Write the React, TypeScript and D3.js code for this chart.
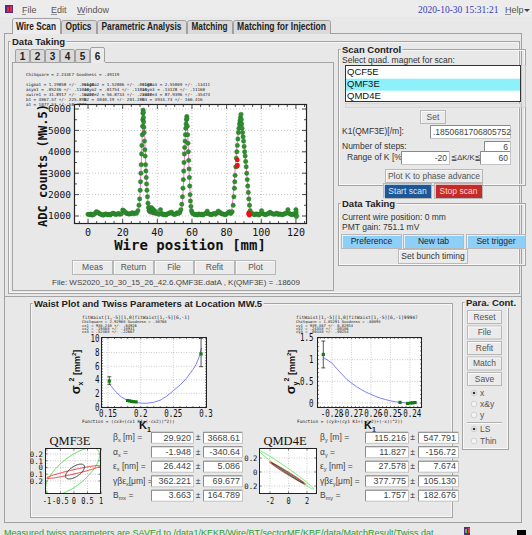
import React from 'react';
import * as d3 from 'd3';

const BG = '#e8e8e8';
const SANS = '"Liberation Sans", "DejaVu Sans", Arial, sans-serif';
const MONO = '"DejaVu Sans Mono", monospace';
const SERIF = '"Liberation Serif", "DejaVu Serif", serif';

// ---------------- Wire scan data ----------------
const scanPoints: [number, number][] = [
  [0,1080],[0.8,1060],[1.6,1090],[2.4,1040],[3.2,1070],[4,1120],[4.8,1200],[5.6,1180],[6.4,1120],[7.2,1090],
  [8,1060],[8.8,1040],[9.6,1080],[10.4,1100],[11.2,1060],[12,1080],[12.8,1050],[13.6,1100],[14.4,1130],[15.2,1110],
  [16,1070],[16.8,1090],[17.6,1120],[18.4,1080],[19.2,1100],[20,1280],[20.8,1240],[21.6,1180],[22.4,1120],[23.2,1100],
  [24,1090],[24.8,1120],[25.6,1150],[26.4,1100],[27.2,1140],[28,1130],[28.8,1250],[29.4,1500],[29.8,1800],[30.1,2200],
  [30.3,2600],[30.5,3000],[30.7,3400],[30.9,3900],[31.1,4300],[31.3,4800],[31.5,5200],[31.6,5500],[31.7,5800],[31.8,5950],
  [31.9,5850],[32.0,5600],[32.1,5400],[32.2,5150],[32.4,4900],[32.6,4500],[32.8,4100],[33.0,3800],[33.2,3400],[33.4,3100],
  [33.6,2800],[33.8,2500],[34.0,2200],[34.3,1900],[34.6,1600],[34.9,1400],[35.2,1250],[35.5,1350],[35.8,1200],[36.1,1300],
  [36.4,1400],[36.7,1250],[37.0,1350],[37.3,1200],[37.6,1300],[37.9,1150],[38.2,1250],[38.5,1200],[38.8,1130],[39.4,1180],
  [40.2,1100],[41,1080],[41.8,1300],[42.6,1120],[43.4,1060],[44.2,1080],[45,1050],[45.8,1100],[46.6,1120],[47.4,1150],
  [48.2,1180],[49,1100],[49.8,1070],[50.6,1090],[51.4,1150],[52.2,1120],[53,1180],[53.6,1300],[54.1,1550],[54.5,1900],
  [54.8,2300],[55.0,2700],[55.2,3100],[55.4,3500],[55.6,3900],[55.8,4200],[56.0,4500],[56.2,4800],[56.4,5100],[56.6,5300],
  [56.8,5500],[57.0,5650],[57.1,5550],[57.3,5200],[57.5,4800],[57.7,4400],[57.9,4000],[58.1,3600],[58.3,3200],[58.5,2800],
  [58.7,2400],[58.9,2000],[59.1,1700],[59.4,1450],[59.7,1250],[60.1,1150],[60.8,1100],[61.6,1060],[62.4,1080],[63.2,1050],
  [64,1100],[64.8,1060],[65.6,1080],[66.4,1050],[67.2,1100],[68,1120],[68.8,1230],[69.6,1100],[70.4,1080],[71.2,1060],
  [72,1090],[72.8,1120],[73.6,1080],[74.4,1150],[75.2,1230],[76,1180],[76.8,1120],[77.6,1100],[78.4,1080],[79.2,1060],
  [80,1100],[80.8,1150],[81.6,1200],[82.4,1120],[83.2,1200],[83.8,1500],[84.2,1900],[84.5,2300],[84.7,2600],[84.9,2900],
  [85.3,3300],[85.6,3700],[85.9,4000],[86.2,4300],[86.5,4600],[86.8,4900],[87.1,5100],[87.4,5300],[87.7,5450],[88.0,5600],
  [88.3,5750],[88.5,5500],[88.7,5300],[88.9,5100],[89.2,4900],[89.5,4700],[89.8,4500],[90.1,4250],[90.4,4000],[90.7,3800],
  [91.0,3550],[91.3,3300],[91.6,3000],[91.9,2700],[92.2,2400],[92.5,2100],[92.8,1800],[93.2,1500],[93.6,1250],[94,1100],
  [94.6,1120],[95.4,1080],[96.2,1060],[97,1100],[97.8,1080],[98.6,1050],[99.4,1100],[100.2,1250],[101,1100],[101.8,1080],
  [102.6,1060],[103.4,1100],[104.2,1120],[105,1180],[105.8,1130],[106.6,1100],[107.4,1080],[108.2,1110],[109,1130],[109.8,1070],
  [110.6,1100],[111.4,1080],[112.2,1060],[113,1090],[113.8,1110],[114.6,1150],[115.4,1300],[116.2,1120],[117,1080],[117.8,1060],
  [118.6,1100],[119.4,1080],[120,1300],[120.1,1180],[120.2,1050],[120.3,980],
];
const scanRedPoints: [number, number][] = [[86.2,3620],[86.3,3380],[86.1,3320],[92.8,1150],[92.9,1080],[93.1,1040],[92.7,1110]];
const scanFit: [number, number][] = [
  [0,1070],[28.6,1075],[29.3,1300],[30,2000],[30.6,3200],[31.2,4600],[31.7,5600],[32,5900],[32.3,5600],[32.8,4500],
  [33.4,3300],[34,2300],[34.6,1600],[35.2,1200],[35.8,1075],[53.8,1075],[54.4,1400],[55,2300],[55.6,3500],[56.2,4700],
  [56.7,5450],[57,5600],[57.3,5300],[57.8,4300],[58.4,3000],[59,1900],[59.6,1300],[60.2,1080],[82.6,1075],[83.3,1500],
  [84.2,2400],[85.2,3500],[86.2,4500],[87.2,5300],[88,5650],[88.6,5500],[89.4,4900],[90.4,4100],[91.4,3200],[92.4,2300],
  [93.2,1600],[93.8,1150],[94.3,1075],[121,1075],
];
const scanXTicks = [0, 20, 40, 60, 80, 100, 120];
const scanYTicks = [1000, 2000, 3000, 4000, 5000, 6000];

const fitHeader = 'ChiSquare = 2.233E7  Goodness  =  .49119';
const fitCol1 = ['sigma1 = 1.19858 +/-  .06648', 'asym1  = .05246 +/-  .11040', 'xwire1 = 31.8917 +/-  .16200', 'b1     = 4067.57 +/- 225.898', 'a1     = 1077.53 +/- 58.3872'];
const fitCol2 = ['sigma2 = 1.52006 +/-  .09108', 'asym2  = .01754 +/-  .11810', 'xwire2 = 56.8733 +/-  .21900', 'b2     = 4040.19 +/- 201.289', ''];
const fitCol3 = ['sigma3 = 2.55069 +/-  .13411', 'asym3  = .13128 +/-  .11160', 'xwire3 = 87.9396 +/-  .35474', 'b3     = 3934.73 +/- 166.416', ''];

// ---------------- Waist data ----------------
const waistXPoints: [number, number][] = [[0.152,3.82],[0.180,0.95],[0.183,0.9],[0.186,0.82],[0.189,0.78],[0.193,0.75],[0.2924,7.8]];
const waistXErr: [number, number, number][] = [[0.152,3.34,4.45],[0.2924,5.93,10.1]];
const waistXFit: [number, number][] = [
  [0.152,3.38],[0.16,2.45],[0.17,1.5],[0.18,0.95],[0.19,0.7],[0.2,0.58],[0.205,0.55],[0.21,0.56],[0.22,0.7],[0.23,1.0],
  [0.24,1.6],[0.25,2.4],[0.26,3.2],[0.27,4.2],[0.28,5.5],[0.285,6.3],[0.29,7.5],[0.293,8.7],
];
const waistXTicks = [0.15, 0.2, 0.25, 0.3];
const waistXTickLabels = ['0.15', '0.2', '0.25', '0.3'];
const waistXYTicks = [0, 2, 4, 6, 8, 10];

const waistYPoints: [number, number][] = [[-0.28446,1.12],[-0.2451,0.015],[-0.2412,-0.01],[-0.2396,0.0],[-0.2386,0.005],[-0.2374,0.01]];
const waistYErr: [number, number, number][] = [[-0.28446,0.81,1.43]];
const waistYFit: [number, number][] = [
  [-0.2842,1.045],[-0.28,0.92],[-0.2775,0.79],[-0.275,0.67],[-0.2725,0.55],[-0.27,0.46],[-0.2675,0.38],[-0.265,0.31],
  [-0.2625,0.25],[-0.26,0.2],[-0.2575,0.15],[-0.255,0.11],[-0.2525,0.08],[-0.25,0.05],[-0.2475,0.03],[-0.245,0.015],
  [-0.2425,0.006],[-0.24,0.002],[-0.2365,0.004],
];
const waistYTicks = [-0.28, -0.27, -0.26, -0.25, -0.24];
const waistYTickLabels = ['-0.28', '-0.27', '-0.26', '-0.25', '-0.24'];
const waistYYTicks = [0, 0.5, 1, 1.5];
const waistYYTickLabels = ['0', '0.5', '1', '1.5'];

const waistXText = ['fitWaist[1,-5][1,0]fitWaist[1,-5][6,-1]', 'ChiSquare = 2.92968   Goodness  =  .38768', 'cx1  =  938.248 +/-  .64926', 'cx2  =  .19468  +/-  .18931', 'cx3  =  .52468  +/-  .22667'];
const waistYText = ['fitWaist[1,-5][1,0]fitWaist[1,-5][6,-1]99947', 'ChiSquare = 1.85291   Goodness = .60893', 'cy1  =  939.367 +/-  6.02953', 'cy2  =  .24358  +/-  .00186', 'cy3  =  .00438  +/-  .00254'];

// ---------------- Phase-space ellipses ----------------
const qmf3eEllipses = [
  { color: '#44dd44', cx: -0.05, cy: -0.06, a: 1.0, b: 0.35, d: 0.8 },
  { color: '#ee2222', cx: -0.03, cy: -0.067, a: 0.98, b: 0.095, d: 0.35 },
  { color: '#222222', cx: 0.04, cy: -0.06, a: 0.35, b: 0.11, d: 0.9 },
];
const qmd4eEllipses = [
  { color: '#55ee55', cx: -0.22, cy: 0.03, a: 2.95, b: 0.275, d: Math.PI - 0.14 },
  { color: '#ee2222', cx: -0.1, cy: -0.015, a: 1.95, b: 0.16, d: Math.PI - 0.14 },
  { color: '#222222', cx: -0.1, cy: -0.015, a: 1.75, b: 0.145, d: Math.PI - 0.07 },
];
const qmf3eXTicks = [-1, -0.5, 0, 0.5, 1];
const qmf3eXLabels = ['-1', '-0.5', '0', '0.5', '1'];
const qmf3eYTicks = [0.2, 0.1, 0, -0.1, -0.2];
const qmf3eYLabels = ['0.2', '0.1', '0', '-0.1', '-0.2'];
const qmd4eXTicks = [-2, 0, 2];
const qmd4eXLabels = ['-2', '0', '2'];
const qmd4eYTicks = [0.2, 0, -0.2];
const qmd4eYLabels = ['0.2', '0', '-0.2'];

// ---------------- Twiss fields ----------------
const twissXLabels: [string, string, string][] = [['β', 'x', ' [m] ='], ['α', 'x', ' ='], ['ε', 'x', ' [nm] ='], ['γβε', 'x', '[μm] ='], ['B', 'mx', ' =']];
const twissYLabels: [string, string, string][] = [['β', 'y', ' [m] ='], ['α', 'y', ' ='], ['ε', 'y', ' [nm] ='], ['γβε', 'y', '[μm] ='], ['B', 'my', ' =']];
const twissXVal = ['29.920', '-1.948', '26.442', '362.221', '3.663'];
const twissXErr = ['3668.61', '-340.64', '5.086', '69.677', '164.789'];
const twissYVal = ['115.216', '11.827', '27.578', '377.775', '1.757'];
const twissYErr = ['547.791', '-156.72', '7.674', '105.130', '182.676'];

const mainTabs = ['Wire Scan', 'Optics', 'Parametric Analysis', 'Matching', 'Matching for Injection'];
const subTabs = ['1', '2', '3', '4', '5', '6'];
const quadList = ['QCF5E', 'QMF3E', 'QMD4E'];
const paraButtons = ['Reset', 'File', 'Refit', 'Match', 'Save'];

// ---------------- helpers ----------------
function Txt({ x, y, children, size = 9, anchor = 'start', weight = 'normal', fill = '#333', family = SANS, ...rest }: any) {
  return <text x={x} y={y} fontSize={size} textAnchor={anchor} fontWeight={weight} fill={fill} fontFamily={family} {...rest}>{children}</text>;
}

function Group({ x, y, w, h, label }: any) {
  return (
    <g>
      <rect x={x + 0.5} y={y + 0.5} width={w} height={h} fill="none" stroke="#a4a4a4" />
      <rect x={x + 1.5} y={y + 1.5} width={w - 2} height={h - 2} fill="none" stroke="#fafafa" strokeWidth={0.8} />
      {label && (
        <text x={x + 4} y={y + 4} fontSize={9.5} fontWeight="bold" fontFamily={SANS} fill="#222" stroke={BG} strokeWidth={4} paintOrder="stroke">{label}</text>
      )}
    </g>
  );
}

function Button({ x, y, w, h, label, fill = '#ebebeb', color = '#555', size = 9, weight = 'normal' }: any) {
  return (
    <g>
      <rect x={x + 0.5} y={y + 0.5} width={w} height={h} fill={fill} stroke="#b8b8b8" />
      <line x1={x + 1} y1={y + 1.5} x2={x + w} y2={y + 1.5} stroke="#ffffff" strokeOpacity={0.7} />
      <line x1={x + 1.5} y1={y + 1} x2={x + 1.5} y2={y + h} stroke="#ffffff" strokeOpacity={0.7} />
      <Txt x={x + w / 2 + 0.5} y={y + h / 2 + size * 0.36} size={size} anchor="middle" fill={color} weight={weight}>{label}</Txt>
    </g>
  );
}

function Field({ x, y, w, h, text, anchor = 'end', size = 9, color = '#444' }: any) {
  return (
    <g>
      <rect x={x + 0.5} y={y + 0.5} width={w} height={h} fill="#fff" stroke="#c4c4c4" />
      <line x1={x + 0.5} y1={y + 0.5} x2={x + w} y2={y + 0.5} stroke="#8a8a8a" />
      <line x1={x + 0.5} y1={y + 0.5} x2={x + 0.5} y2={y + h} stroke="#8a8a8a" />
      <Txt x={anchor === 'end' ? x + w - 2 : x + 3} y={y + h / 2 + size * 0.36} size={size} anchor={anchor} fill={color}>{text}</Txt>
    </g>
  );
}

function MenuBar() {
  return (
    <g>
      <rect x={0} y={0} width={532} height={17} fill="#ececec" />
      <rect x={5} y={5} width={8} height={8} fill="#5a2a8a" />
      <rect x={7} y={7} width={2} height={5} fill="#e03030" />
      <rect x={10} y={6} width={2} height={6} fill="#e03030" />
      {[['File', 22], ['Edit', 51], ['Window', 77]].map(([t, x]) => (
        <Txt key={t as string} x={x} y={13} size={9} fill="#555">{t}</Txt>
      ))}
      <line x1={22} y1={14.5} x2={26} y2={14.5} stroke="#555" strokeWidth={0.6} />
      <line x1={51} y1={14.5} x2={57} y2={14.5} stroke="#555" strokeWidth={0.6} />
      <line x1={77} y1={14.5} x2={85} y2={14.5} stroke="#555" strokeWidth={0.6} />
      <Txt x={418} y={13} size={9.5} fill="#3a3ab8" family={SERIF}>2020-10-30 15:31:21</Txt>
      <Txt x={505} y={13} size={9} fill="#555">Help</Txt>
      <line x1={505} y1={14.5} x2={511} y2={14.5} stroke="#555" strokeWidth={0.6} />
      <path d="M524,9 L530,9 L527,12 Z" fill="#444" />
    </g>
  );
}

function MainTabs() {
  const xs = [12, 61, 97, 187, 233, 331];
  const lens = [40, 26, 80, 36, 89];
  return (
    <g>
      <line x1={4.5} y1={33.5} x2={521.5} y2={33.5} stroke="#a0a0a0" />
      {mainTabs.map((t, i) => {
        const sel = i === 0;
        const x0 = xs[i], x1 = xs[i + 1] - 1;
        const top = sel ? 18.5 : 20.5;
        return (
          <g key={t}>
            <path d={`M${x0 + 0.5},34 L${x0 + 0.5},${top + 2} Q${x0 + 0.5},${top} ${x0 + 2.5},${top} L${x1 - 1.5},${top} Q${x1 + 0.5},${top} ${x1 + 0.5},${top + 2} L${x1 + 0.5},34`}
              fill={sel ? '#ececec' : '#dadada'} stroke="#a0a0a0" />
            {sel && <line x1={x0 + 1} y1={33.5} x2={x1} y2={33.5} stroke="#ececec" />}
            <text x={(x0 + x1) / 2} y={30} fontSize={10} fontWeight="bold" textAnchor="middle" fill="#222" fontFamily={SANS}
              textLength={lens[i]} lengthAdjust="spacingAndGlyphs">{t}</text>
          </g>
        );
      })}
    </g>
  );
}

function SubTabs() {
  return (
    <g>
      <rect x={12.5} y={62.5} width={321} height={228} fill="none" stroke="#a4a4a4" />
      {subTabs.map((t, i) => {
        const x0 = 15 + i * 15, x1 = x0 + 15;
        const sel = i === 5;
        return (
          <g key={t}>
            <rect x={x0 + 0.5} y={sel ? 47.5 : 49.5} width={14} height={sel ? 15 : 13} fill={sel ? '#ececec' : '#dadada'} stroke="#a0a0a0" rx={1.5} />
            {sel && <line x1={x0 + 1} y1={62.5} x2={x1} y2={62.5} stroke="#ececec" />}
            <Txt x={x0 + 7.5} y={59.5} size={10} weight="bold" anchor="middle" fill="#222">{t}</Txt>
          </g>
        );
      })}
    </g>
  );
}

function ScanChart() {
  const L = 74, R = 307, T = 104, B = 224;
  const x = d3.scaleLinear().domain([-8.1, 126.4]).range([L, R]);
  const y = d3.scaleLinear().domain([626, 6234]).range([B, T]);
  const line = d3.line<[number, number]>().x(d => x(d[0])).y(d => y(d[1]));
  const xMinor = d3.range(-5, 126, 5);
  const yMinor = d3.range(1000, 6234, 500);
  return (
    <g>
      <rect x={L} y={T} width={R - L} height={B - T} fill="#fff" />
      {scanXTicks.map(t => <line key={'gx' + t} x1={x(t)} x2={x(t)} y1={T} y2={B} stroke="#b0b0b0" strokeWidth={0.7} strokeDasharray="1,2" />)}
      {scanYTicks.map(t => <line key={'gy' + t} x1={L} x2={R} y1={y(t)} y2={y(t)} stroke="#b0b0b0" strokeWidth={0.7} strokeDasharray="1,2" />)}
      {xMinor.map(t => {
        const major = t % 20 === 0;
        const len = major ? 5 : 3;
        return <g key={'xt' + t}>
          <line x1={x(t)} x2={x(t)} y1={B} y2={B - len} stroke="#222" strokeWidth={0.8} />
          <line x1={x(t)} x2={x(t)} y1={T} y2={T + len} stroke="#222" strokeWidth={0.8} />
        </g>;
      })}
      {yMinor.map(t => {
        const major = t % 1000 === 0;
        const len = major ? 5 : 3;
        return <g key={'yt' + t}>
          <line x1={L} x2={L + len} y1={y(t)} y2={y(t)} stroke="#222" strokeWidth={0.8} />
          <line x1={R} x2={R - len} y1={y(t)} y2={y(t)} stroke="#222" strokeWidth={0.8} />
        </g>;
      })}
      <path d={line(scanFit) || ''} fill="none" stroke="#ff66cc" strokeWidth={0.9} />
      {scanPoints.map((p, i) => <circle key={'p' + i} cx={x(p[0])} cy={y(p[1])} r={2.2} fill="#2f8f2f" stroke="#1e6e1e" strokeWidth={0.4} />)}
      {scanRedPoints.map((p, i) => <circle key={'r' + i} cx={x(p[0])} cy={y(p[1])} r={2.3} fill="#ee1111" />)}
      <rect x={L + 0.5} y={T + 0.5} width={R - L - 1} height={B - T - 1} fill="none" stroke="#222" strokeWidth={1.2} />
      {scanXTicks.map(t => <Txt key={'xl' + t} x={x(t)} y={236} size={10} anchor="middle" family={MONO} fill="#111">{t}</Txt>)}
      {scanYTicks.map(t => <Txt key={'yl' + t} x={71} y={y(t) + 3.4} size={9.5} anchor="end" family={MONO} fill="#111">{t}</Txt>)}
      <Txt x={190} y={250} size={14} anchor="middle" family={MONO} weight="bold" fill="#111">Wire position [mm]</Txt>
      <Txt x={0} y={0} size={12} anchor="middle" family={MONO} weight="bold" fill="#111" transform="translate(46.5,165.5) rotate(-90)">ADC counts (MW.5)</Txt>
    </g>
  );
}

function FitText() {
  const rows = [85.5, 90.6, 95.7, 100.8, 105.9];
  return (
    <g fontFamily={MONO} fontSize={4.2} fill="#222">
      <text x={26} y={75.5}>{fitHeader}</text>
      {rows.map((yy, i) => (
        <g key={i}>
          <text x={26} y={yy}>{fitCol1[i]}</text>
          {fitCol2[i] && <text x={84} y={yy}>{fitCol2[i]}</text>}
          {fitCol3[i] && <text x={142} y={yy}>{fitCol3[i]}</text>}
        </g>
      ))}
    </g>
  );
}

function WaistChart({ L, R, T, B, xd, yd, xticks, xlabels, yticks, ylabels, curve, pts, errs, yLabelRight, sub, textLines, textX, funcText, funcX, k1x, ylx }: any) {
  const x = d3.scaleLinear().domain(xd).range([L, R]);
  const y = d3.scaleLinear().domain(yd).range([B, T]);
  const line = d3.line<[number, number]>().x(d => x(d[0])).y(d => y(d[1]));
  const step = xticks[1] - xticks[0];
  const ystep = yticks[1] - yticks[0];
  const xMinor = d3.range(xticks[0] - step, xticks[xticks.length - 1] + step, step / 5).filter(v => v >= xd[0] && v <= xd[1]);
  const yMinor = d3.range(yticks[0] - ystep, yticks[yticks.length - 1] + ystep, ystep / 5).filter(v => v >= yd[0] && v <= yd[1]);
  return (
    <g>
      <g fontFamily={MONO} fill="#222">
        {textLines.map((t: string, i: number) => (
          <text key={i} x={textX} y={319 + i * 3.4 + (i === 0 ? 0 : 0.8)} fontSize={i === 0 ? 4.6 : 3.8}>{t}</text>
        ))}
      </g>
      <rect x={L} y={T} width={R - L} height={B - T} fill="#fff" />
      {xticks.map((t: number) => <line key={'gx' + t} x1={x(t)} x2={x(t)} y1={T} y2={B} stroke="#a8a8a8" strokeWidth={0.6} strokeDasharray="1,1.5" />)}
      {yticks.map((t: number) => <line key={'gy' + t} x1={L} x2={R} y1={y(t)} y2={y(t)} stroke="#a8a8a8" strokeWidth={0.6} strokeDasharray="1,1.5" />)}
      {xMinor.map((t: number, i: number) => <g key={'xm' + i}>
        <line x1={x(t)} x2={x(t)} y1={B} y2={B - 2} stroke="#222" strokeWidth={0.6} />
        <line x1={x(t)} x2={x(t)} y1={T} y2={T + 2} stroke="#222" strokeWidth={0.6} />
      </g>)}
      {yMinor.map((t: number, i: number) => <g key={'ym' + i}>
        <line x1={L} x2={L + 2} y1={y(t)} y2={y(t)} stroke="#222" strokeWidth={0.6} />
        <line x1={R} x2={R - 2} y1={y(t)} y2={y(t)} stroke="#222" strokeWidth={0.6} />
      </g>)}
      <path d={line(curve) || ''} fill="none" stroke="#6f6fff" strokeWidth={0.9} />
      {errs.map((e: number[], i: number) => <g key={'e' + i} stroke="#111" strokeWidth={0.7}>
        <line x1={x(e[0])} x2={x(e[0])} y1={y(e[1])} y2={y(e[2])} />
        <line x1={x(e[0]) - 2} x2={x(e[0]) + 2} y1={y(e[1])} y2={y(e[1])} />
        <line x1={x(e[0]) - 2} x2={x(e[0]) + 2} y1={y(e[2])} y2={y(e[2])} />
      </g>)}
      {pts.map((p: number[], i: number) => <rect key={'p' + i} x={x(p[0]) - 1.6} y={y(p[1]) - 1.6} width={3.2} height={3.2} fill="#137a13" />)}
      <rect x={L + 0.5} y={T + 0.5} width={R - L - 1} height={B - T - 1} fill="none" stroke="#222" strokeWidth={1} />
      {xticks.map((t: number, i: number) => <text key={'xl' + i} x={x(t)} y={416.5} fontSize={10} fontFamily={MONO} textAnchor="middle" fill="#111" textLength={xlabels[i].length * 4.5} lengthAdjust="spacingAndGlyphs">{xlabels[i]}</text>)}
      {yticks.map((t: number, i: number) => <text key={'yl' + i} x={yLabelRight} y={y(t) + 3.5} fontSize={10} fontFamily={MONO} textAnchor="end" fill="#111" textLength={ylabels[i].length * 4.5} lengthAdjust="spacingAndGlyphs">{ylabels[i]}</text>)}
      <text x={funcX} y={422.5} fontSize={4.4} fontFamily={MONO} fill="#222">{funcText}</text>
      <text x={k1x} y={429} fontSize={11} fontWeight="bold" fontFamily={SANS} fill="#111">K<tspan fontSize={7} dy={2.5}>1</tspan></text>
      <g transform={`translate(${ylx},372) rotate(-90)`}>
        <text x={0} y={0} textAnchor="middle" fontFamily={SANS} fontWeight="bold" fill="#111" fontSize={13}>
          σ<tspan fontSize={7} dy={3}>{sub}</tspan><tspan fontSize={7} dy={-9}>2</tspan><tspan fontSize={9} dy={6}>{'  [mm'}</tspan><tspan fontSize={6} dy={-4}>2</tspan><tspan fontSize={9} dy={4}>]</tspan>
        </text>
      </g>
    </g>
  );
}

function EllipseChart({ id, L, R, T, B, xd, yd, ellipses, xticks, xlabels, yticks, ylabels, yLabelRight, clipX, title, titleX }: any) {
  const x = d3.scaleLinear().domain(xd).range([L, R]);
  const y = d3.scaleLinear().domain(yd).range([B, T]);
  const line = d3.line<[number, number]>().x(d => x(d[0])).y(d => y(d[1]));
  const ts = d3.range(0, 2 * Math.PI + 0.001, Math.PI / 90);
  return (
    <g>
      <defs>
        <clipPath id={id + 'plot'}><rect x={L} y={T} width={R - L} height={B - T} /></clipPath>
        <clipPath id={id + 'lab'}><rect x={clipX} y={T - 10} width={200} height={70} /></clipPath>
      </defs>
      <Txt x={titleX} y={445} size={12.5} anchor="middle" family={SERIF} fill="#111">{title}</Txt>
      <rect x={L} y={T} width={R - L} height={B - T} fill="#fff" />
      {xticks.map((t: number) => <line key={'gx' + t} x1={x(t)} x2={x(t)} y1={T} y2={B} stroke="#a8a8a8" strokeWidth={0.6} strokeDasharray="1,1.5" />)}
      {yticks.map((t: number) => <line key={'gy' + t} x1={L} x2={R} y1={y(t)} y2={y(t)} stroke="#a8a8a8" strokeWidth={0.6} strokeDasharray="1,1.5" />)}
      {xticks.map((t: number) => <g key={'xt' + t} stroke="#222" strokeWidth={0.6}>
        <line x1={x(t)} x2={x(t)} y1={B} y2={B - 2.5} /><line x1={x(t)} x2={x(t)} y1={T} y2={T + 2.5} />
      </g>)}
      {yticks.map((t: number) => <g key={'yt' + t} stroke="#222" strokeWidth={0.6}>
        <line x1={L} x2={L + 2.5} y1={y(t)} y2={y(t)} /><line x1={R} x2={R - 2.5} y1={y(t)} y2={y(t)} />
      </g>)}
      <g clipPath={`url(#${id}plot)`}>
        {ellipses.map((e: any, i: number) => (
          <path key={i} d={(line(ts.map(t => [e.cx + e.a * Math.cos(t), e.cy + e.b * Math.cos(t + e.d)] as [number, number])) || '') + 'Z'} fill="none" stroke={e.color} strokeWidth={0.9} />
        ))}
      </g>
      <rect x={L + 0.5} y={T + 0.5} width={R - L - 1} height={B - T - 1} fill="none" stroke="#222" strokeWidth={1} />
      {xticks.map((t: number, i: number) => <text key={'xl' + i} x={x(t)} y={503.5} fontSize={8} fontFamily={MONO} textAnchor="middle" fill="#111" textLength={xlabels[i].length * 4.2} lengthAdjust="spacingAndGlyphs">{xlabels[i]}</text>)}
      <g clipPath={`url(#${id}lab)`}>
        {yticks.map((t: number, i: number) => <text key={'yl' + i} x={yLabelRight} y={y(t) + 2.8} fontSize={7.5} fontFamily={MONO} textAnchor="end" fill="#111" textLength={ylabels[i].length * 4.4} lengthAdjust="spacingAndGlyphs">{ylabels[i]}</text>)}
      </g>
    </g>
  );
}

function TwissFields({ labels, vals, errs, lx, b1x, b1w, pmx, b2x, b2w }: any) {
  const centers = [437.3, 451.7, 466.2, 480.8, 495.2];
  return (
    <g>
      {labels.map((lab: string[], i: number) => (
        <g key={i}>
          <text x={lx} y={centers[i] + 3} fontSize={8.5} fontFamily={SANS} fill="#444">
            {lab[0]}<tspan fontSize={5.5} dy={1.8}>{lab[1]}</tspan><tspan dy={-1.8}>{lab[2]}</tspan>
          </text>
          <Field x={b1x} y={centers[i] - 5.5} w={b1w} h={11} text={vals[i]} />
          <Txt x={pmx} y={centers[i] + 3} size={8.5} anchor="middle" fill="#444">±</Txt>
          <Field x={b2x} y={centers[i] - 5.5} w={b2w} h={11} text={errs[i]} />
        </g>
      ))}
    </g>
  );
}

function ScanControl() {
  return (
    <g>
      <Group x={338} y={49} w={187} h={136} label="Scan Control" />
      <Txt x={342} y={63} size={8.5} fill="#333">Select quad. magnet for scan:</Txt>
      <rect x={345.5} y={65.5} width={175} height={36} fill="#fff" stroke="#333" />
      <rect x={346} y={78.7} width={174} height={12} fill="#8ef0fa" />
      {quadList.map((q, i) => <Txt key={q} x={347} y={75 + i * 12} size={9.5} fill="#111">{q}</Txt>)}
      <rect x={345.5} y={103.5} width={175} height={4} fill="#e4e4e4" stroke="#c8c8c8" strokeWidth={0.5} />
      <rect x={521.5} y={65.5} width={4} height={42} fill="#e4e4e4" stroke="#c8c8c8" strokeWidth={0.5} />
      <Button x={420} y={110} w={25} h={13} label="Set" size={8.5} />
      <Txt x={342} y={134} size={8.5} fill="#333">K1(QMF3E)[/m]:</Txt>
      <Field x={430} y={125} w={80} h={13} text=".1850681706805752" anchor="start" size={8.5} />
      <Txt x={342} y={149} size={8.5} fill="#333">Number of steps:</Txt>
      <Field x={484} y={141} w={26} h={12} text="6" size={8.5} />
      <Txt x={347} y={160} size={8.5} fill="#333">Range of K [%]:</Txt>
      <Field x={401} y={151} w={48} h={13} text="-20" size={8.5} />
      <Txt x={451} y={160} size={7.5} fill="#333">≦ΔK/K≦</Txt>
      <Field x={480} y={151} w={30} h={13} text="60" size={8.5} />
      <Button x={385} y={169} w={97} h={13} label="Plot K to phase advance" size={8.5} />
      <Button x={383} y={183} w={48} h={15} label="Start scan" fill="#1e5796" color="#dde6ff" size={8.5} />
      <Button x={434} y={183} w={48} h={15} label="Stop scan" fill="#c42a2a" color="#ffd8d8" size={8.5} />
      <Group x={338} y={203} w={187} h={62} label="Data Taking" />
      <Txt x={342} y={220} size={8.5} fill="#333">Current wire position: 0 mm</Txt>
      <Txt x={342} y={230} size={8.5} fill="#333">PMT gain: 751.1 mV</Txt>
      <Button x={341} y={234} w={60} h={14} label="Preference" fill="#8ecff8" color="#223" size={8.5} />
      <Button x={403} y={234} w={60} h={14} label="New tab" fill="#8ecff8" color="#223" size={8.5} />
      <Button x={466} y={234} w={59} h={14} label="Set trigger" fill="#8ecff8" color="#223" size={8.5} />
      <Button x={398} y={249} w={69} h={14} label="Set bunch timing" size={8.5} color="#333" />
    </g>
  );
}

function ParaCont() {
  const radios = [['x', 396, true], ['x&y', 407, false], ['y', 418, false], ['LS', 432, true], ['Thin', 444, false]];
  return (
    <g>
      <Group x={462} y={302} w={46} h={147} label="Para. Cont." />
      {paraButtons.map((b, i) => <Button key={b} x={467} y={310 + i * 15.5} w={34} h={13} label={b} size={8.5} />)}
      {radios.map(([t, yy, on]) => (
        <g key={t as string}>
          <circle cx={474} cy={(yy as number) - 3} r={2.8} fill="#f4f4f4" stroke="#bbb" strokeWidth={0.6} />
          {on && <circle cx={474} cy={(yy as number) - 3} r={1.3} fill="#333" />}
          <Txt x={480} y={yy} size={8.5} fill="#555">{t}</Txt>
        </g>
      ))}
      <line x1={467} y1={422.5} x2={502} y2={422.5} stroke="#b0b0b0" />
      <line x1={467} y1={423.5} x2={502} y2={423.5} stroke="#fafafa" />
    </g>
  );
}

export default function App() {
  return (
    <svg width={532} height={535} viewBox="0 0 532 535" style={{ position: 'absolute', left: 0, top: 0, display: 'block' }}>
      <rect width={532} height={535} fill={BG} />
      <MenuBar />
      <rect x={4.5} y={33.5} width={517} height={489} fill="none" stroke="#a0a0a0" />
      <MainTabs />
      <Group x={8} y={41} w={511} h={252} label="Data Taking" />
      <SubTabs />
      <FitText />
      <ScanChart />
      {['Meas', 'Return', 'File', 'Refit', 'Plot'].map((b, i) => (
        <Button key={b} x={[72, 113, 154, 194, 235][i]} y={260} w={[40, 40, 39, 40, 40][i]} h={14} label={b} size={8.5} />
      ))}
      <Txt x={52} y={285} size={8} fill="#444">{'File: WS2020_10_30_15_26_42.6.QMF3E.datA ,     K(QMF3E) = .18609'}</Txt>
      <ScanControl />
      <line x1={4.5} y1={296.5} x2={521.5} y2={296.5} stroke="#a4a4a4" />
      <Group x={30} y={303} w={422} h={214} label="Waist Plot and Twiss Parameters at Location MW.5" />
      <WaistChart L={101} R={207} T={337} B={408} xd={[0.1393, 0.3015]} yd={[-0.147, 10.29]}
        xticks={waistXTicks} xlabels={waistXTickLabels} yticks={waistXYTicks} ylabels={waistXYTicks.map(String)}
        curve={waistXFit} pts={waistXPoints} errs={waistXErr} yLabelRight={99.5} sub="x"
        textLines={waistXText} textX={82} funcText="Function = (cx3+(cx1 K1+(-cx2))^2))" funcX={82} k1x={139} ylx={80} />
      <WaistChart L={317} R={422} T={337} B={408} xd={[-0.2877, -0.2338]} yd={[-0.115, 1.523]}
        xticks={waistYTicks} xlabels={waistYTickLabels} yticks={waistYYTicks} ylabels={waistYYTickLabels}
        curve={waistYFit} pts={waistYPoints} errs={waistYErr} yLabelRight={313.5} sub="y"
        textLines={waistYText} textX={296} funcText="Function = (cy3+(cy1 K1+(-cy2)+(-x))^2))" funcX={297} k1x={364} ylx={295} />
      <EllipseChart id="qmd" L={259} R={317} T={448} B={494} xd={[-3.19, 3.08]} yd={[-0.314, 0.343]}
        ellipses={qmd4eEllipses} xticks={qmd4eXTicks} xlabels={qmd4eXLabels} yticks={qmd4eYTicks} ylabels={qmd4eYLabels}
        yLabelRight={257.5} clipX={243.5} title="QMD4E" titleX={285} />
      <EllipseChart id="qmf" L={45} R={101} T={448} B={494} xd={[-1.07, 1.0]} yd={[-0.393, 0.289]}
        ellipses={qmf3eEllipses} xticks={qmf3eXTicks} xlabels={qmf3eXLabels} yticks={qmf3eYTicks} ylabels={qmf3eYLabels}
        yLabelRight={43} clipX={29.3} title="QMF3E" titleX={70} />
      <TwissFields labels={twissXLabels} vals={twissXVal} errs={twissXErr} lx={113} b1x={151} b1w={42} pmx={198} b2x={203} b2w={39} />
      <TwissFields labels={twissYLabels} vals={twissYVal} errs={twissYErr} lx={320} b1x={365} b1w={43} pmx={412.5} b2x={418} b2w={40} />
      <ParaCont />
      <Txt x={4} y={536} size={9} fill="#2c9a2c">Measured twiss parameters are SAVEd to /data1/KEKB/Wire/BT/sectorME/KBE/data/MatchResult/Twiss.dat.</Txt>
      <rect x={464} y={527} width={6} height={8} fill="#5a2a8a" />
      <rect x={465} y={529} width={2} height={4} fill="#3c3" />
      <rect x={468} y={528} width={2} height={5} fill="#e33" />
      <rect x={517} y={530} width={9} height={5} fill="#000" />
    </svg>
  );
}
